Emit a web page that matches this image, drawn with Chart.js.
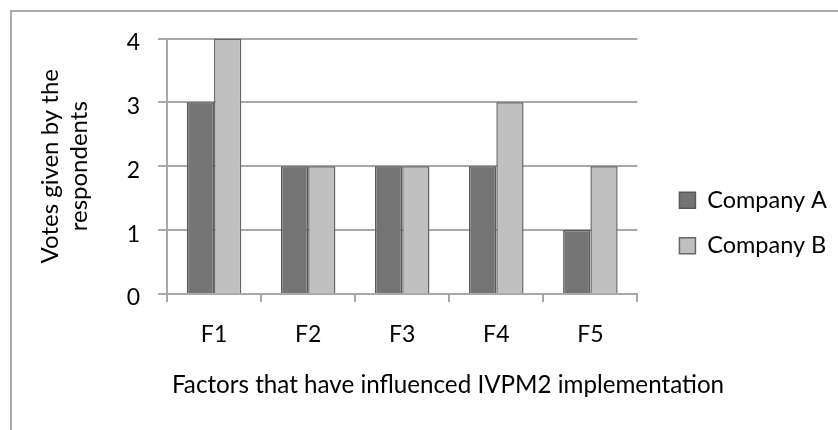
<!DOCTYPE html>
<html><head><meta charset="utf-8">
<script src="https://cdn.jsdelivr.net/npm/chart.js@4.4.0/dist/chart.umd.min.js"></script>
<style>
html,body{margin:0;padding:0;background:#fff;}
#wrap{position:relative;width:838px;height:430px;overflow:hidden;background:#fff;}
#frame{position:absolute;left:10px;top:10px;width:900px;height:500px;border-left:2px solid #aaaaaa;border-top:2px solid #aaaaaa;box-sizing:border-box;}
canvas{position:absolute;left:0;top:0;}
</style></head><body>
<div id="wrap"><div id="frame"></div><canvas id="c" width="838" height="430" style="width:838px;height:430px"></canvas></div>
<script>
const categories = ['F1', 'F2', 'F3', 'F4', 'F5'];
const seriesNames = ['Company A', 'Company B'];
const companyA = [3, 2, 2, 2, 1];
const companyB = [4, 2, 2, 3, 2];
const yTickValues = [0, 1, 2, 3, 4];
const xTitle = 'Factors that have influenced IVPM2 implementation';
const yTitle = ['Votes given by the', 'respondents'];

const FONT = 'Lato';
const GRID = '#a8a8a8';

new Chart(document.getElementById('c'), {
  type: 'bar',
  data: {
    labels: categories,
    datasets: [
      { label: seriesNames[0], data: companyA, backgroundColor: '#747474', borderColor: '#5a5a5a', borderWidth: 1.5, categoryPercentage: 0.58, barPercentage: 1 },
      { label: seriesNames[1], data: companyB, backgroundColor: '#c0c0c0', borderColor: '#666666', borderWidth: 1.5, categoryPercentage: 0.58, barPercentage: 1 }
    ]
  },
  options: {
    responsive: false,
    animation: false,
    devicePixelRatio: 1,
    layout: { padding: { top: 16, right: 1, bottom: 0, left: 59 } },
    font: { family: FONT, size: 23 },
    color: '#000',
    plugins: {
      tooltip: { enabled: false },
      legend: {
        position: 'right',
        labels: { boxWidth: 16, boxHeight: 16, padding: 22, color: '#000', font: { family: FONT, size: 23.5 } }
      },
      title: {
        display: true, position: 'bottom', align: 'center', fullSize: true,
        text: xTitle, color: '#000',
        font: { family: FONT, size: 24.2, weight: 'normal', lineHeight: 1.2 },
        padding: { top: 16.5, bottom: 30.5 }
      }
    },
    scales: {
      x: {
        position: 'bottom',
        grid: { display: true, drawOnChartArea: false, drawTicks: true, tickLength: 8, color: GRID, lineWidth: 2, offset: true },
        border: { display: true, color: GRID, width: 2 },
        ticks: { padding: 19, color: '#000', font: { family: FONT, size: 23 } },
        afterFit: s => { s.height = 60; }
      },
      y: {
        position: 'left',
        min: 0, max: 4,
        afterBuildTicks: s => { s.ticks = yTickValues.map(v => ({ value: v })); },
        grid: { color: GRID, lineWidth: 2, tickLength: 9, drawTicks: true },
        border: { display: true, color: GRID, width: 2 },
        ticks: { padding: 18, labelOffset: 4, color: '#000', font: { family: FONT, size: 23 } },
        title: { display: true, text: yTitle, color: '#000', font: { family: FONT, size: 24, lineHeight: 1.2 }, padding: { top: -23.4, bottom: 0 } },
        afterFit: s => { s.width = 108; }
      },
      topSpacer: {
        type: 'linear', position: 'top', display: false,
        afterFit: s => { s.height = 22.5; }
      },
      rightSpacer: {
        type: 'linear', position: 'right', display: false,
        afterFit: s => { s.width = 20; }
      }
    }
  }
});
</script>
</body></html>
